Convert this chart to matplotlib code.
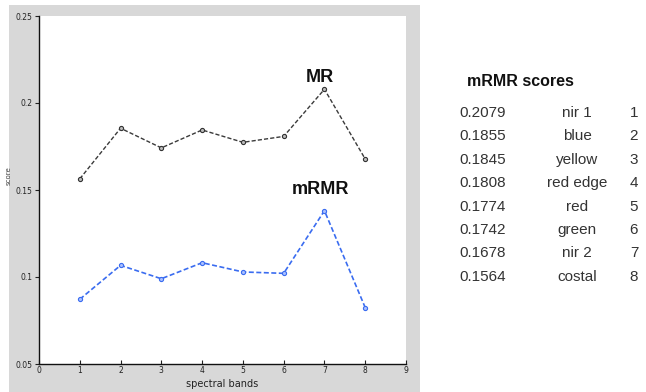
import matplotlib
matplotlib.use("Agg")
import matplotlib.pyplot as plt
from matplotlib.patches import Rectangle

# Scores per spectral band (band index 1..8)
bands = [1, 2, 3, 4, 5, 6, 7, 8]
mr_scores = [0.1564, 0.1855, 0.1742, 0.1845, 0.1774, 0.1808, 0.2079, 0.1678]
mrmr_scores = [0.0872, 0.1067, 0.0990, 0.1082, 0.1029, 0.1021, 0.1381, 0.0824]

# Ranked table
rank_values = ["0.2079", "0.1855", "0.1845", "0.1808", "0.1774", "0.1742", "0.1678", "0.1564"]
rank_names = ["nir 1", "blue", "yellow", "red edge", "red", "green", "nir 2", "costal"]
rank_pos = ["1", "2", "3", "4", "5", "6", "7", "8"]

x_ticks = [0, 1, 2, 3, 4, 5, 6, 7, 8, 9]
y_ticks = [0.05, 0.1, 0.15, 0.2, 0.25]
y_ticklabels = ["0.05", "0.1", "0.15", "0.2", "0.25"]

W, H = 646, 392
fig = plt.figure(figsize=(W / 100, H / 100), dpi=100)
fig.patch.set_facecolor("white")

# gray figure frame behind the plot
fig.patches.append(Rectangle((9 / W, 0), (420 - 9) / W, (H - 5) / H,
                             transform=fig.transFigure, facecolor="#d8d8d8",
                             edgecolor="none", zorder=-5))

ax = fig.add_axes([39 / W, 1 - 364 / H, (406 - 39) / W, (364 - 16) / H])
ax.set_zorder(2)
ax.set_facecolor("white")
ax.plot(bands, mr_scores, linestyle=(0, (3, 1.5)), color="#3a3a3a", lw=1.0,
        marker="o", markersize=3, markerfacecolor="#bbbbbb",
        markeredgecolor="#333333", markeredgewidth=0.8)
ax.plot(bands, mrmr_scores, linestyle=(0, (3, 1.5)), color="#3a6cf0", lw=1.2,
        marker="o", markersize=3, markerfacecolor="#aac0ff",
        markeredgecolor="#3a6cf0", markeredgewidth=0.8)

ax.set_xlim(0, 9)
ax.set_ylim(0.05, 0.25)
ax.set_xticks(x_ticks)
ax.set_yticks(y_ticks)
ax.set_yticklabels(y_ticklabels)
ax.tick_params(axis="both", labelsize=5.5, length=3, width=0.8, colors="#222222", pad=1.5)
ax.tick_params(axis="x", direction="in")
ax.tick_params(axis="y", direction="out")
for s in ["top", "right"]:
    ax.spines[s].set_visible(False)
for s in ["left", "bottom"]:
    ax.spines[s].set_color("#111111")
    ax.spines[s].set_linewidth(1.0)

ax.set_xlabel("spectral bands", fontsize=7, color="#222222", labelpad=3)
ax.set_ylabel("score", fontsize=5, color="#444444")
ax.yaxis.set_label_coords(-27 / (406 - 39), 0.54)

ax.text(6.9, 0.2145, "MR", fontsize=13, fontweight="bold", ha="center", va="center",
        color="#111111", family="Liberation Sans")
ax.text(6.9, 0.150, "mRMR", fontsize=13, fontweight="bold", ha="center", va="center",
        color="#111111", family="Liberation Sans")

# ranking table on the right
fig.text(520 / W, 1 - 81 / H, "mRMR scores", fontsize=11.5, fontweight="bold",
         ha="center", va="center", color="#111111", family="Liberation Sans")
row0, step = 113, 23.4
for i, (v, n, r) in enumerate(zip(rank_values, rank_names, rank_pos)):
    y = 1 - (row0 + i * step) / H
    fig.text(459 / W, y, v, fontsize=11, ha="left", va="center", color="#333333",
             family="Liberation Sans")
    fig.text(577 / W, y, n, fontsize=11, ha="center", va="center", color="#333333",
             family="Liberation Sans")
    fig.text(634 / W, y, r, fontsize=11, ha="center", va="center", color="#333333",
             family="Liberation Sans")

fig.savefig("out.png", dpi=100)
